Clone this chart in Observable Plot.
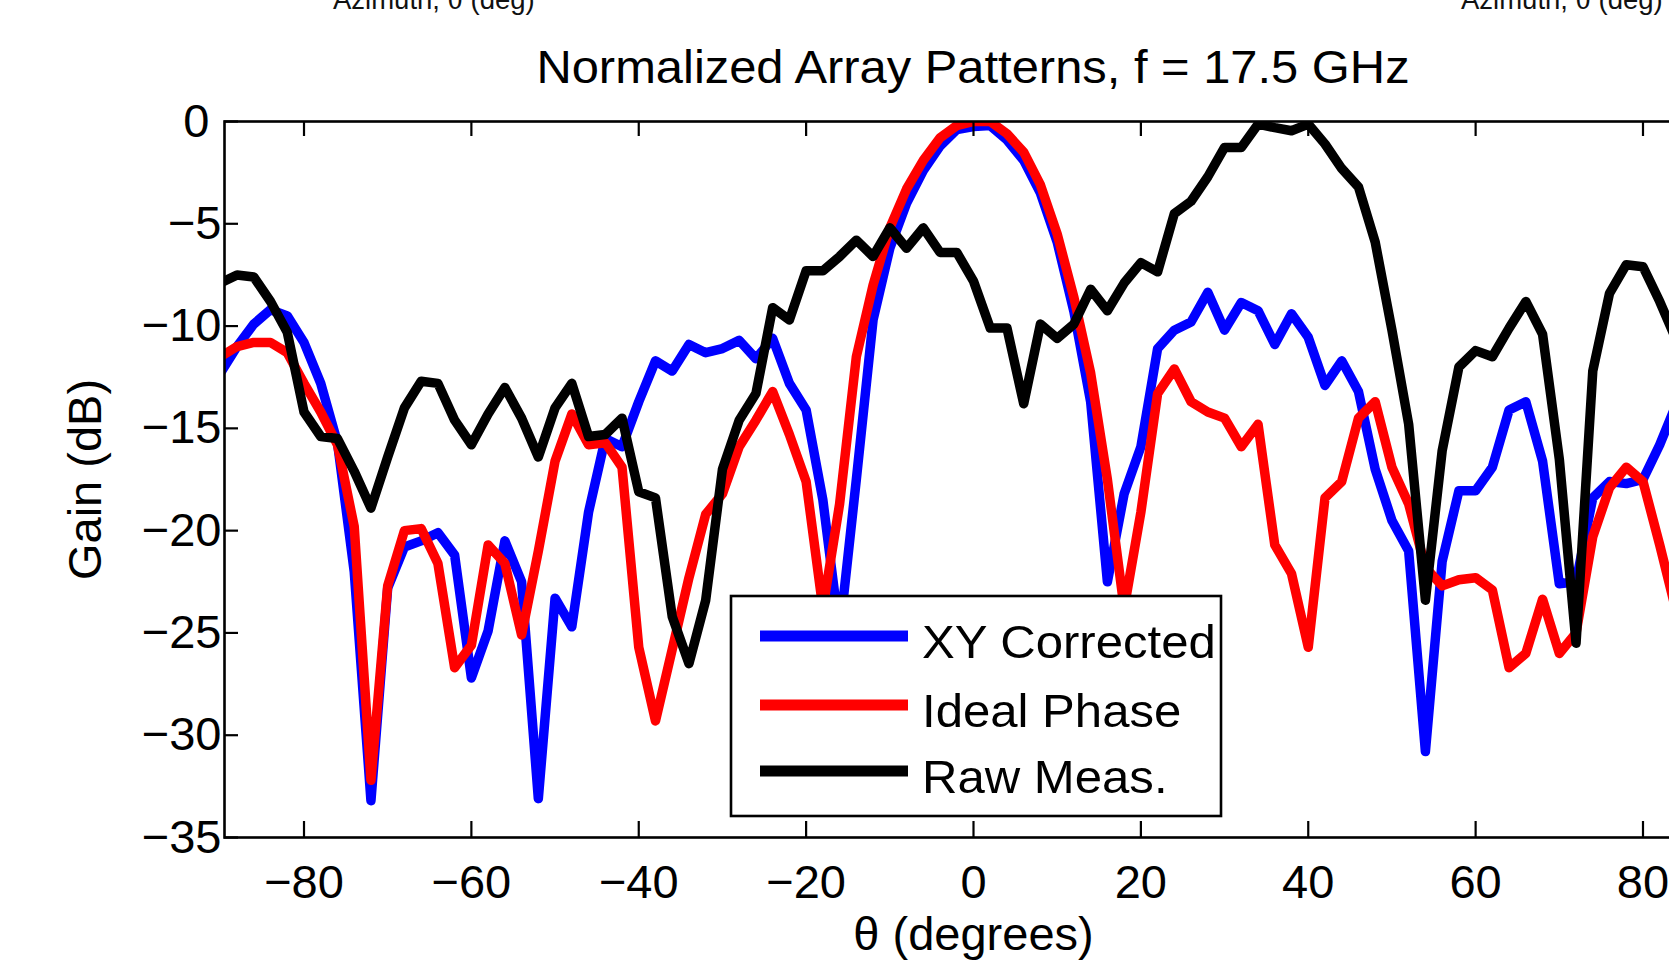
<!DOCTYPE html>
<html>
<head>
<meta charset="utf-8">
<script src="https://cdn.jsdelivr.net/npm/d3@7"></script>
<script src="https://cdn.jsdelivr.net/npm/@observablehq/plot@0.6"></script>
<style>
  html, body { margin: 0; padding: 0; width: 1669px; height: 963px; overflow: hidden; background: #fff; }
  #chart { position: absolute; left: 0; top: 0; width: 1760px; }
  #chart svg { max-width: none !important; }
  #overlay { position: absolute; left: 0; top: 0; pointer-events: none; }
</style>
</head>
<body>
<div id="chart"></div>
<svg id="overlay" width="1669" height="963"></svg>
<script>
// ---------- data ----------
const theta = [-90,-88,-86,-84,-82,-80,-78,-76,-74,-72,-70,-68,-66,-64,-62,-60,-58,-56,-54,-52,
  -50,-48,-46,-44,-42,-40,-38,-36,-34,-32,-30,-28,-26,-24,-22,-20,-18,-16,-14,-12,
  -10,-8,-6,-4,-2,0,2,4,6,8,10,12,14,16,18,20,22,24,26,28,
  30,32,34,36,38,40,42,44,46,48,50,52,54,56,58,60,62,64,66,68,
  70,72,74,76,78,80,82,84];

const xyCorrected = [-12.3,-11.0,-9.9,-9.2,-9.5,-10.8,-12.8,-15.7,-22.0,-33.2,-22.8,-20.8,-20.5,-20.1,-21.2,-27.2,-24.9,-20.5,-22.5,-33.1,
  -23.3,-24.7,-19.1,-15.5,-15.9,-13.7,-11.7,-12.2,-10.9,-11.3,-11.1,-10.7,-11.6,-10.6,-12.8,-14.1,-18.5,-25.0,-17.5,-9.7,
  -6.2,-4.0,-2.4,-1.2,-0.4,-0.25,-0.2,-0.9,-1.9,-3.5,-5.9,-9.3,-13.7,-22.5,-18.2,-15.9,-11.1,-10.2,-9.8,-8.35,
  -10.2,-8.85,-9.25,-10.9,-9.4,-10.55,-12.9,-11.7,-13.2,-17.0,-19.5,-21.0,-30.8,-21.5,-18.05,-18.05,-16.9,-14.1,-13.7,-16.6,
  -22.6,-22.5,-18.4,-17.6,-17.7,-17.5,-15.8,-13.8];

const idealPhase = [-11.5,-11.0,-10.8,-10.8,-11.3,-12.8,-14.2,-15.8,-19.8,-32.2,-22.7,-20.0,-19.9,-21.6,-26.7,-25.6,-20.7,-21.6,-25.1,-21.0,
  -16.6,-14.3,-15.8,-15.7,-16.9,-25.7,-29.3,-25.8,-22.3,-19.2,-18.2,-15.9,-14.6,-13.2,-15.3,-17.6,-23.8,-18.7,-11.5,-8.0,
  -5.2,-3.3,-1.9,-0.8,-0.2,0,0,-0.6,-1.5,-3.1,-5.5,-8.6,-12.3,-17.5,-23.8,-19.1,-13.3,-12.1,-13.7,-14.2,
  -14.5,-15.9,-14.8,-20.7,-22.1,-25.7,-18.4,-17.6,-14.5,-13.7,-16.9,-18.7,-21.8,-22.7,-22.4,-22.3,-22.9,-26.7,-26.0,-23.35,
  -26.0,-25.0,-20.3,-17.9,-16.9,-17.6,-20.7,-24.0];

const rawMeas = [-7.9,-7.5,-7.6,-8.8,-10.3,-14.2,-15.4,-15.5,-17.1,-18.9,-16.4,-14.0,-12.7,-12.8,-14.6,-15.8,-14.3,-13.0,-14.5,-16.4,
  -14.0,-12.8,-15.4,-15.3,-14.5,-18.1,-18.4,-24.2,-26.5,-23.4,-17.0,-14.6,-13.3,-9.1,-9.7,-7.3,-7.3,-6.6,-5.8,-6.6,
  -5.2,-6.2,-5.2,-6.4,-6.4,-7.8,-10.1,-10.1,-13.8,-9.9,-10.6,-9.9,-8.2,-9.25,-7.9,-6.9,-7.35,-4.5,-3.9,-2.7,
  -1.27,-1.27,-0.13,-0.3,-0.45,-0.13,-1.1,-2.3,-3.2,-5.9,-10.2,-14.8,-23.4,-16.1,-12.0,-11.2,-11.5,-10.1,-8.8,-10.4,
  -16.5,-25.5,-12.2,-8.4,-7.0,-7.1,-8.8,-10.7];

const seriesNames = ["XY Corrected", "Ideal Phase", "Raw Meas."];
const seriesValues = [xyCorrected, idealPhase, rawMeas];
const seriesColors = ["#0000ff", "#ff0000", "#000000"];

const xTicks = [-80, -60, -40, -20, 0, 20, 40, 60, 80];
const yTicks = [0, -5, -10, -15, -20, -25, -30, -35];

const titleText = "Normalized Array Patterns, f = 17.5 GHz";
const xLabel = "θ (degrees)";
const yLabel = "Gain (dB)";
const topLabels = ["Azimuth, θ (deg)", "Azimuth, θ (deg)"];

// ---------- chart ----------
const FONT = "'Liberation Sans', Arial, Helvetica, sans-serif";
const W = 1760, H = 963;
const mL = 224, mT = 121, mB = 126, mR = 38;
const plotH = H - mT - mB, plotW = W - mL - mR;
const LW = 9.5;

const lineMarks = seriesValues.map((vals, i) =>
  Plot.line(theta, {
    x: (d) => d,
    y: (d, j) => vals[j],
    stroke: seriesColors[i],
    strokeWidth: LW,
    strokeLinejoin: "round",
    strokeLinecap: "round",
    clip: true
  })
);

const chart = Plot.plot({
  width: W,
  height: H,
  marginLeft: mL,
  marginRight: mR,
  marginTop: mT,
  marginBottom: mB,
  style: { fontFamily: FONT, fontSize: "47px", background: "white", color: "black", overflow: "visible", maxWidth: "none" },
  x: { domain: [-89.5, 89.5], ticks: xTicks, label: null },
  y: { domain: [-35, 0], ticks: yTicks, label: null },
  marks: [
    ...lineMarks,
    // inward tick marks (bottom, top, left, right)
    Plot.ruleX(xTicks, { x: (d) => d, insetTop: plotH - 16, stroke: "black", strokeWidth: 2.2 }),
    Plot.ruleX(xTicks, { x: (d) => d, insetBottom: plotH - 15, stroke: "black", strokeWidth: 2.2 }),
    Plot.ruleY(yTicks, { y: (d) => d, insetRight: plotW - 14, stroke: "black", strokeWidth: 2.2 }),
    Plot.ruleY(yTicks, { y: (d) => d, insetLeft: plotW - 14, stroke: "black", strokeWidth: 2.2 }),
    Plot.frame({ stroke: "black", strokeWidth: 2.6 }),
    Plot.axisX(xTicks, { anchor: "bottom", tickSize: 0, tickPadding: 27, fontSize: 47, label: xLabel, labelArrow: "none", labelAnchor: "center", labelOffset: 112 }),
    Plot.axisY(yTicks.slice(0, 1), { anchor: "left", tickSize: 0, tickPadding: 15, fontSize: 47, label: null }),
    Plot.axisY(yTicks.slice(1), { anchor: "left", tickSize: 0, tickPadding: 3, fontSize: 47, label: yLabel, labelArrow: "none", labelAnchor: "center", labelOffset: 157 })
  ]
});
document.getElementById("chart").appendChild(chart);

// ---------- overlay: title, legend, cropped labels of neighbouring panels ----------
const ov = d3.select("#overlay");
ov.append("text")
  .attr("transform", "translate(973,83) scale(1.04,1)")
  .attr("text-anchor", "middle")
  .style("font-family", FONT).style("font-size", "47px")
  .text(titleText);

[333, 1461].forEach((x, i) => {
  ov.append("text").attr("x", x).attr("y", 9)
    .style("font-family", FONT).style("font-size", "27.5px")
    .attr("fill", "#111")
    .text(topLabels[i]);
});

const leg = ov.append("g");
leg.append("rect")
  .attr("x", 731).attr("y", 596).attr("width", 490).attr("height", 220)
  .attr("fill", "white").attr("stroke", "black").attr("stroke-width", 2.6);
const rowY = [636, 705, 771];
seriesNames.forEach((name, i) => {
  leg.append("line")
    .attr("x1", 760).attr("x2", 908).attr("y1", rowY[i]).attr("y2", rowY[i])
    .attr("stroke", seriesColors[i]).attr("stroke-width", 11);
  leg.append("text")
    .attr("transform", `translate(922,${rowY[i] + 22}) scale(1.045,1)`)
    .style("font-family", FONT).style("font-size", "47px")
    .text(name);
});
</script>
</body>
</html>
